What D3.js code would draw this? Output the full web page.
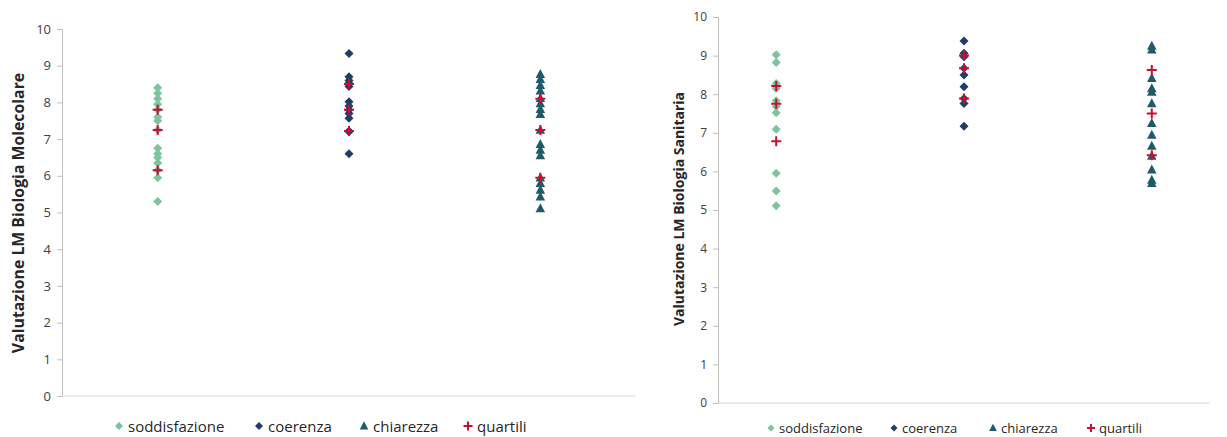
<!DOCTYPE html>
<html><head><meta charset="utf-8">
<script src="https://cdn.jsdelivr.net/npm/d3@7"></script>
<style>body{margin:0;background:#fff}svg{display:block}</style>
</head><body>
<svg id="c" width="1227" height="437"></svg>
<script>
const categories = ["soddisfazione","coerenza","chiarezza"];
const yTicks = [0,1,2,3,4,5,6,7,8,9,10];
const legendLabels = ["soddisfazione","coerenza","chiarezza","quartili"];

// LM Biologia Molecolare
const molSoddisfazione = [8.4,8.25,8.1,7.95,7.8,7.6,7.5,7.25,6.75,6.6,6.5,6.35,6.15,5.95,5.3];
const molCoerenza = [9.33,8.7,8.6,8.52,8.43,8.02,7.9,7.8,7.7,7.57,7.22,7.2,6.6];
const molChiarezza = [8.77,8.63,8.47,8.32,8.11,7.97,7.81,7.68,7.25,6.86,6.7,6.55,5.95,5.8,5.61,5.43,5.11];
const molQuartili = [[7.8,7.25,6.15],[8.5,7.8,7.22],[8.1,7.25,5.95]];

// LM Biologia Sanitaria
const sanSoddisfazione = [9.02,8.82,8.28,8.15,7.83,7.68,7.52,7.09,5.95,5.49,5.11];
const sanCoerenza = [9.38,9.06,8.97,8.67,8.5,8.19,7.89,7.76,7.17];
const sanChiarezza = [9.25,9.15,8.41,8.15,8.06,7.76,7.25,6.94,6.66,6.4,6.04,5.78,5.69];
const sanQuartili = [[8.21,7.75,6.78],[9.0,8.67,7.89],[8.63,7.5,6.42]];

const COL = {sodd:"#7CC49D", coer:"#203D66", chia:"#1F5A6B", quart:"#C8102E"};
const FONT = "'Open Sans', sans-serif";
const svg = d3.select("#c");

const diamondPath = s => `M0,${-s}L${s},0L0,${s}L${-s},0Z`;
const trianglePath = s => `M0,${-s*1.05}L${s*0.95},${s*0.75}L${-s*0.95},${s*0.75}Z`;
const crossPath = s => `M${-s},0H${s}M0,${-s}V${s}`;

function drawChart(cfg){
  const g = svg.append("g");
  const x = d3.scaleLinear().domain(cfg.xDomain).range(cfg.xRange);
  const y = d3.scaleLinear().domain([0,10]).range(cfg.yRange);

  g.append("line").attr("x1",cfg.xRange[0]).attr("x2",cfg.xRange[1])
    .attr("y1",y(0)).attr("y2",y(0)).attr("stroke","#d9d9d9").attr("stroke-width",1);

  const ya = d3.axisLeft(y).tickValues(yTicks).tickSize(5).tickPadding(6).tickFormat(d3.format("d"));
  const ag = g.append("g").attr("transform",`translate(${cfg.xRange[0]},0)`).call(ya);
  ag.select(".domain").attr("stroke","#bfbfbf");
  ag.selectAll(".tick line").attr("stroke","#bfbfbf");
  ag.selectAll(".tick text").attr("fill","#404040").style("font-family",FONT).style("font-size",cfg.tickSize+"px");

  g.append("text").attr("transform",`translate(${cfg.titleX},${cfg.titleY}) rotate(-90)`)
    .attr("text-anchor","middle").attr("dominant-baseline","central")
    .style("font-family",FONT).style("font-weight","bold").style("font-size",cfg.titleSize+"px")
    .attr("fill","#262626").text(cfg.title);

  const series = [
    {vals:cfg.sodd, i:1, color:COL.sodd, path:diamondPath(cfg.ms)},
    {vals:cfg.coer, i:2, color:COL.coer, path:diamondPath(cfg.ms)},
    {vals:cfg.chia, i:3, color:COL.chia, path:trianglePath(cfg.ms+0.5)}
  ];
  series.forEach(s=>{
    g.append("g").selectAll("path").data(s.vals).join("path")
      .attr("transform",d=>`translate(${x(s.i)},${y(d)})`)
      .attr("d",s.path).attr("fill",s.color);
  });
  cfg.quart.forEach((qs,ci)=>{
    g.append("g").selectAll("path").data(qs).join("path")
      .attr("transform",d=>`translate(${x(ci+1)},${y(d)})`)
      .attr("d",crossPath(cfg.ms+0.5)).attr("stroke",COL.quart).attr("stroke-width",2).attr("fill","none");
  });

  const lg = g.append("g");
  const syms = [
    {p:diamondPath(cfg.lms), c:COL.sodd, f:true},
    {p:diamondPath(cfg.lms), c:COL.coer, f:true},
    {p:trianglePath(cfg.lms+0.5), c:COL.chia, f:true},
    {p:crossPath(cfg.lms+0.5), c:COL.quart, f:false}
  ];
  legendLabels.forEach((lab,i)=>{
    const sx = cfg.legendX[i];
    const sp = lg.append("path").attr("transform",`translate(${sx},${cfg.legendY})`).attr("d",syms[i].p);
    if(syms[i].f) sp.attr("fill",syms[i].c); else sp.attr("stroke",syms[i].c).attr("stroke-width",2).attr("fill","none");
    lg.append("text").attr("x",sx+cfg.legendGap).attr("y",cfg.legendY).attr("dominant-baseline","central")
      .style("font-family",FONT).style("font-size",cfg.legendSize+"px").attr("fill","#262626").text(lab);
  });
}

drawChart({
  xDomain:[0.5,3.5], xRange:[62,636], yRange:[396,29],
  title:"Valutazione LM Biologia Molecolare", titleX:18, titleY:213, titleSize:15.8, tickSize:13,
  sodd:molSoddisfazione, coer:molCoerenza, chia:molChiarezza, quart:molQuartili, ms:4.5,
  legendX:[119,259,364,468], legendY:426, legendGap:9, legendSize:15, lms:4
});
drawChart({
  xDomain:[0.69,3.31], xRange:[718,1210], yRange:[403,17],
  title:"Valutazione LM Biologia Sanitaria", titleX:678, titleY:209, titleSize:14, tickSize:12,
  sodd:sanSoddisfazione, coer:sanCoerenza, chia:sanChiarezza, quart:sanQuartili, ms:4.5,
  legendX:[771,894,993,1091], legendY:428, legendGap:8, legendSize:13, lms:3.5
});
</script>
</body></html>
